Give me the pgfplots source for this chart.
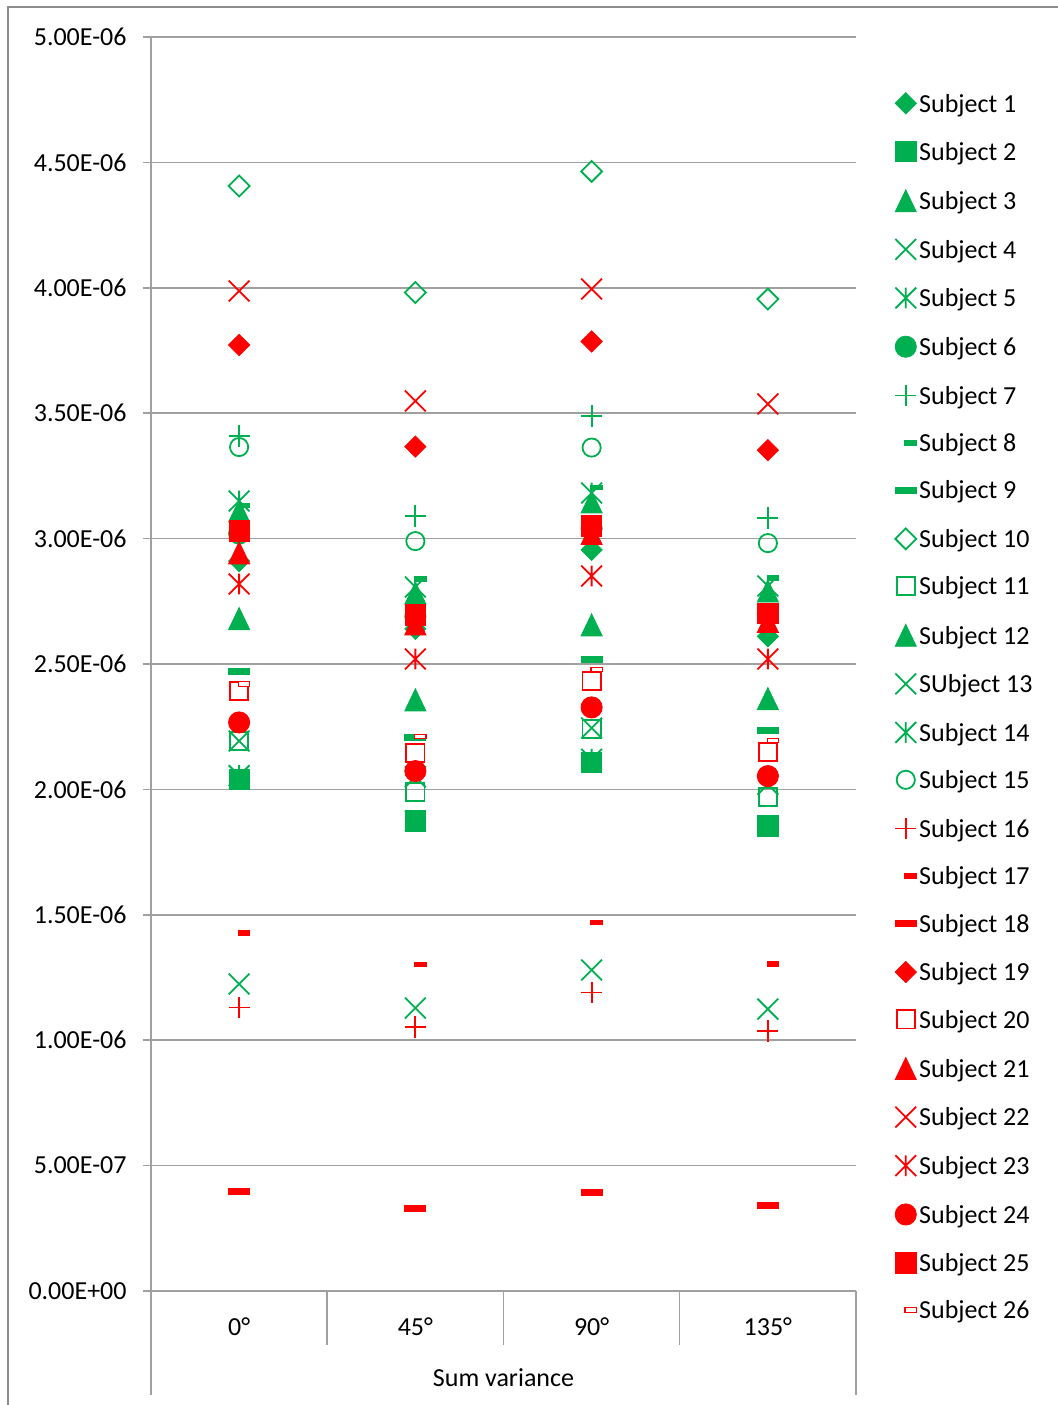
\documentclass[border=0pt]{standalone}
\usepackage{fontspec}
\setmainfont{Carlito}
\usepackage{pgfplots}
\pgfplotsset{compat=1.18}

\definecolor{xg}{RGB}{0,176,80}
\definecolor{xr}{RGB}{255,0,0}
\definecolor{gridc}{RGB}{160,160,160}
\definecolor{framec}{RGB}{140,140,140}

\pgfdeclareplotmark{xx}{%
  \pgfpathmoveto{\pgfqpoint{-\pgfplotmarksize}{-\pgfplotmarksize}}%
  \pgfpathlineto{\pgfqpoint{\pgfplotmarksize}{\pgfplotmarksize}}%
  \pgfpathmoveto{\pgfqpoint{-\pgfplotmarksize}{\pgfplotmarksize}}%
  \pgfpathlineto{\pgfqpoint{\pgfplotmarksize}{-\pgfplotmarksize}}%
  \pgfusepathqstroke}
\pgfdeclareplotmark{xstar}{%
  \pgfpathmoveto{\pgfqpoint{-\pgfplotmarksize}{-\pgfplotmarksize}}%
  \pgfpathlineto{\pgfqpoint{\pgfplotmarksize}{\pgfplotmarksize}}%
  \pgfpathmoveto{\pgfqpoint{-\pgfplotmarksize}{\pgfplotmarksize}}%
  \pgfpathlineto{\pgfqpoint{\pgfplotmarksize}{-\pgfplotmarksize}}%
  \pgfpathmoveto{\pgfqpoint{0pt}{-\pgfplotmarksize}}%
  \pgfpathlineto{\pgfqpoint{0pt}{\pgfplotmarksize}}%
  \pgfusepathqstroke}
\pgfdeclareplotmark{etri}{%
  \pgfpathmoveto{\pgfqpoint{0pt}{\pgfplotmarksize}}%
  \pgfpathlineto{\pgfqpoint{-0.96\pgfplotmarksize}{-\pgfplotmarksize}}%
  \pgfpathlineto{\pgfqpoint{0.96\pgfplotmarksize}{-\pgfplotmarksize}}%
  \pgfpathclose\pgfusepathqfillstroke}
\pgfdeclareplotmark{sdash}{%
  \pgfpathrectangle{\pgfqpoint{-0.35pt}{-1.15pt}}{\pgfqpoint{5.7pt}{2.3pt}}%
  \pgfusepathqfillstroke}
\pgfdeclareplotmark{ldash}{%
  \pgfpathrectangle{\pgfqpoint{-5.2pt}{-1.45pt}}{\pgfqpoint{10.4pt}{2.9pt}}%
  \pgfusepathqfillstroke}

\newcommand{\fsz}{\fontsize{13}{15.6}\selectfont}

\pgfplotsset{
  base/.style={only marks, legend image code/.code={\draw[##1] plot coordinates {(0pt,1.4pt)};}},
  fdia/.style={base, color=#1, mark=square*, mark size=3.75pt, mark options={rotate=45, line width=0.4pt, fill=#1, draw=#1}},
  fsq/.style={base, color=#1, mark=square*, mark size=5.1pt, mark options={line width=0.4pt, fill=#1, draw=#1}},
  ftri/.style={base, color=#1, mark=etri, mark size=5.5pt, mark options={line width=0.4pt, fill=#1, draw=#1}},
  mx/.style={base, color=#1, mark=xx, mark size=5.2pt, line width=0.9pt, mark options={draw=#1}},
  mst/.style={base, color=#1, mark=xstar, mark size=5.2pt, line width=0.9pt, mark options={draw=#1}},
  fcir/.style={base, color=#1, mark=*, mark size=5.3pt, mark options={line width=0.4pt, fill=#1, draw=#1}},
  mplus/.style={base, color=#1, mark=+, mark size=5.3pt, line width=0.9pt, mark options={draw=#1}},
  msd/.style={base, color=#1, mark=sdash, line width=0.6pt, mark options={fill=#1, draw=#1}},
  msdo/.style={base, color=#1, mark=sdash, line width=0.6pt, mark options={fill=white, draw=#1}},
  mld/.style={base, color=#1, mark=ldash, line width=0.6pt, mark options={fill=#1, draw=#1}},
  odia/.style={base, color=#1, mark=square, mark size=3.7pt, line width=0.9pt, mark options={rotate=45, draw=#1}},
  osq/.style={base, color=#1, mark=square, mark size=4.55pt, line width=0.9pt, mark options={draw=#1}},
  ocir/.style={base, color=#1, mark=o, mark size=4.55pt, line width=0.9pt, mark options={draw=#1}},
}

\begin{document}
\begin{tikzpicture}
\path[use as bounding box] (0,0) rectangle (529pt,702.5pt);
\draw[framec, line width=0.75pt] (4pt,0) -- (4pt,699pt) -- (529pt,699pt);
\begin{axis}[
  at={(75.5pt,57pt)}, anchor=south west,
  scale only axis, width=352.5pt, height=627pt,
  xmin=-0.5, xmax=3.5, ymin=0, ymax=5,
  clip=false,
  axis line style={draw=none},
  xtick={0,1,2,3}, xticklabels={0°,45°,90°,135°},
  xtick style={draw=none},
  xticklabel style={anchor=center, yshift=-14pt, inner sep=0pt},
  ytick={0,0.5,1,1.5,2,2.5,3,3.5,4,4.5,5},
  yticklabels={0.00E+00,5.00E-07,1.00E-06,1.50E-06,2.00E-06,2.50E-06,3.00E-06,3.50E-06,4.00E-06,4.50E-06,5.00E-06},
  ytick pos=left,
  tick align=outside, major tick length=4pt,
  ytick style={gridc, line width=0.75pt},
  yticklabel style={anchor=east, inner sep=0pt, xshift=-8pt},
  tick label style={font=\fsz, text=black},
  ymajorgrids, grid style={gridc, line width=0.75pt},
  legend cell align=left,
  legend style={draw=none, fill=none, inner sep=0pt, row sep=11.68pt, column sep=1.35pt,
    font=\fsz, text=black, nodes={inner sep=0pt, outer sep=0pt, text height=9pt, text depth=3pt},
    at={(1.0550,0.9559)}, anchor=north west},
]
\addplot[fdia=xg] coordinates {(0,2.91) (1,2.64) (2,2.955) (3,2.61)};
\addlegendentry{Subject 1}
\addplot[fsq=xg] coordinates {(0,2.041) (1,1.874) (2,2.107) (3,1.854)};
\addlegendentry{Subject 2}
\addplot[ftri=xg] coordinates {(0,3.11) (1,2.783) (2,3.146) (3,2.791)};
\addlegendentry{Subject 3}
\addplot[mx=xg] coordinates {(0,1.224) (1,1.128) (2,1.280) (3,1.124)};
\addlegendentry{Subject 4}
\addplot[mst=xg] coordinates {(0,3.150) (1,2.807) (2,3.182) (3,2.811)};
\addlegendentry{Subject 5}
\addplot[fcir=xg] coordinates {(0,3.02) (1,2.69) (2,3.04) (3,2.70)};
\addlegendentry{Subject 6}
\addplot[mplus=xg] coordinates {(0,3.409) (1,3.090) (2,3.489) (3,3.082)};
\addlegendentry{Subject 7}
\addplot[msd=xg] coordinates {(0,3.132) (1,2.839) (2,3.204) (3,2.843)};
\addlegendentry{Subject 8}
\addplot[mld=xg] coordinates {(0,2.472) (1,2.207) (2,2.518) (3,2.235)};
\addlegendentry{Subject 9}
\addplot[odia=xg] coordinates {(0,4.406) (1,3.981) (2,4.464) (3,3.955)};
\addlegendentry{Subject 10}
\addplot[osq=xg] coordinates {(0,2.193) (1,1.990) (2,2.241) (3,1.970)};
\addlegendentry{Subject 11}
\addplot[ftri=xg] coordinates {(0,2.681) (1,2.357) (2,2.656) (3,2.362)};
\addlegendentry{Subject 12}
\addplot[mx=xg] coordinates {(0,2.193) (1,2.05) (2,2.245) (3,2.02)};
\addlegendentry{SUbject 13}
\addplot[mst=xg] coordinates {(0,2.055) (1,1.874) (2,2.12) (3,1.854)};
\addlegendentry{Subject 14}
\addplot[ocir=xg] coordinates {(0,3.365) (1,2.990) (2,3.363) (3,2.982)};
\addlegendentry{Subject 15}
\addplot[mplus=xr] coordinates {(0,1.130) (1,1.053) (2,1.190) (3,1.037)};
\addlegendentry{Subject 16}
\addplot[msd=xr] coordinates {(0,1.427) (1,1.302) (2,1.469) (3,1.304)};
\addlegendentry{Subject 17}
\addplot[mld=xr] coordinates {(0,0.397) (1,0.329) (2,0.393) (3,0.341)};
\addlegendentry{Subject 18}
\addplot[fdia=xr] coordinates {(0,3.772) (1,3.367) (2,3.786) (3,3.353)};
\addlegendentry{Subject 19}
\addplot[osq=xr] coordinates {(0,2.392) (1,2.145) (2,2.432) (3,2.149)};
\addlegendentry{Subject 20}
\addplot[ftri=xr] coordinates {(0,2.943) (1,2.66) (2,3.02) (3,2.67)};
\addlegendentry{Subject 21}
\addplot[mx=xr] coordinates {(0,3.987) (1,3.549) (2,3.995) (3,3.537)};
\addlegendentry{Subject 22}
\addplot[mst=xr] coordinates {(0,2.819) (1,2.520) (2,2.851) (3,2.520)};
\addlegendentry{Subject 23}
\addplot[fcir=xr] coordinates {(0,2.267) (1,2.073) (2,2.327) (3,2.053)};
\addlegendentry{Subject 24}
\addplot[fsq=xr] coordinates {(0,3.030) (1,2.695) (2,3.050) (3,2.701)};
\addlegendentry{Subject 25}
\addplot[msdo=xr] coordinates {(0,2.42) (1,2.211) (2,2.478) (3,2.195)};
\addlegendentry{Subject 26}

\draw[gridc, line width=0.75pt] (rel axis cs:0,1) -- (rel axis cs:0,0) -- ++(0pt,-52pt);
\draw[gridc, line width=0.75pt] (rel axis cs:1,0) -- ++(0pt,-52pt);
\draw[gridc, line width=0.75pt] (axis cs:0.5,0) -- ++(0pt,-27pt);
\draw[gridc, line width=0.75pt] (axis cs:1.5,0) -- ++(0pt,-27pt);
\draw[gridc, line width=0.75pt] (axis cs:2.5,0) -- ++(0pt,-27pt);
\node[font=\fsz, text=black, inner sep=0pt] at (rel axis cs:0.5,0) [yshift=-43.5pt] {Sum variance};
\end{axis}
\end{tikzpicture}
\end{document}
